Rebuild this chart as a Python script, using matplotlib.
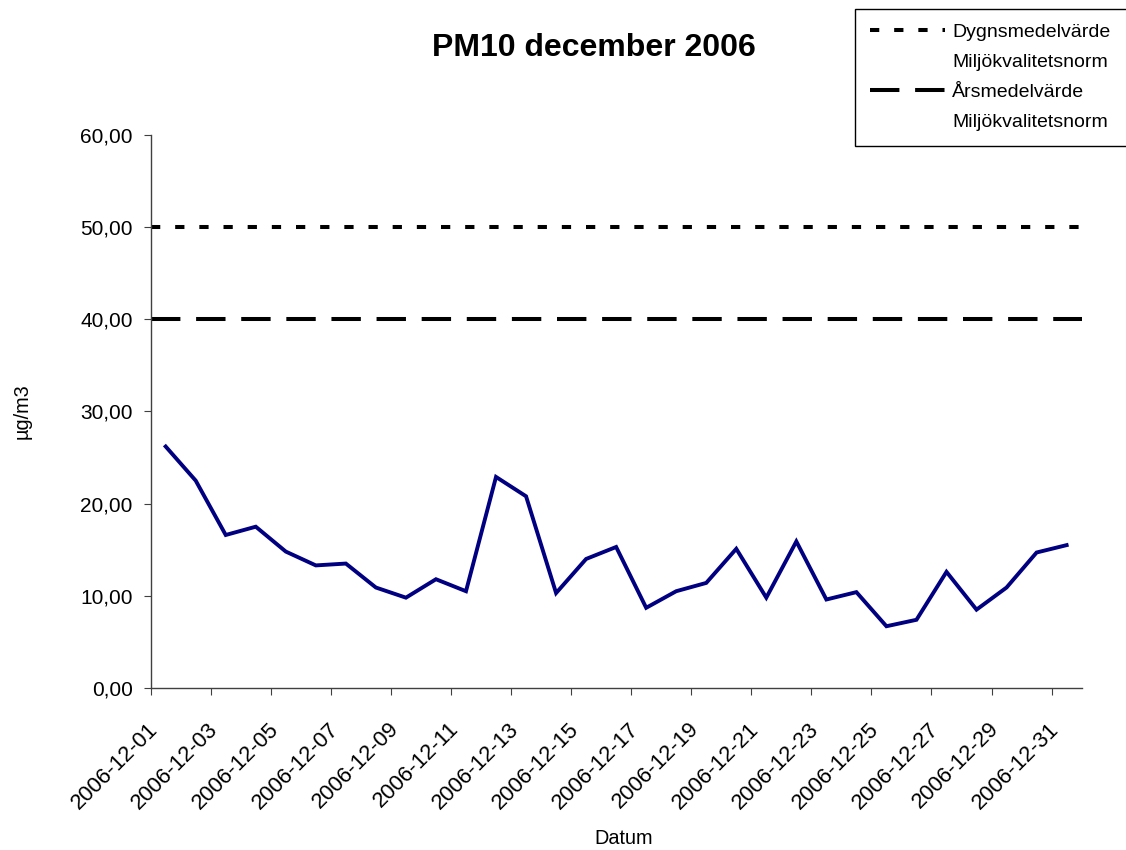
import matplotlib.pyplot as plt
import matplotlib.transforms as mtransforms
from matplotlib.lines import Line2D
import numpy as np

plt.rcParams['font.family'] = ['Liberation Sans', 'DejaVu Sans']

datum = ['2006-12-%02d' % d for d in range(1, 32)]
pm10 = [26.2, 22.5, 16.6, 17.5, 14.8, 13.3, 13.5, 10.9, 9.8, 11.8,
        10.5, 22.9, 20.8, 10.3, 14.0, 15.3, 8.7, 10.5, 11.4, 15.1,
        9.8, 15.9, 9.6, 10.4, 6.7, 7.4, 12.6, 8.5, 10.9, 14.7, 15.5]
dygn_norm = 50.0
ars_norm = 40.0
yticks = [0, 10, 20, 30, 40, 50, 60]

fig = plt.figure(figsize=(11.26, 8.5), dpi=100)
ax = fig.add_axes([0.1338, 0.1906, 0.8268, 0.6506])

x = np.arange(len(datum))
ax.plot(x, pm10, color='#000080', linewidth=2.8, solid_joinstyle='miter')
dot_style = dict(color='black', linewidth=2.9, dashes=(2.3, 3.7), dash_capstyle='butt')
dash_style = dict(color='black', linewidth=2.9, dashes=(7.3, 3.9), dash_capstyle='butt')
ax.axhline(dygn_norm, **dot_style)
ax.axhline(ars_norm, **dash_style)

# tick marks between categories, labels on every other category
ax.set_xticks(np.arange(-0.5, len(datum), 2))
ax.set_xticklabels([])
ax.set_xticks(x[::2], minor=True)
ax.set_xticklabels(datum[::2], minor=True, rotation=45, ha='right', va='top',
                   rotation_mode='anchor', fontsize=15.8)
ax.tick_params(axis='x', which='major', direction='out', length=5, color='#404040')
ax.tick_params(axis='x', which='minor', length=0, pad=22)
# nudge the rotated labels a little to the left, like excel does
shift = mtransforms.ScaledTranslation(-0.18, 0, fig.dpi_scale_trans)
for lab in ax.xaxis.get_minorticklabels():
    lab.set_transform(lab.get_transform() + shift)

ax.set_yticks(yticks)
ax.set_yticklabels([('%.2f' % v).replace('.', ',') for v in yticks])
ax.tick_params(axis='y', direction='out', length=5, color='#404040', labelsize=15, pad=8)

ax.set_xlim(-0.5, len(datum) - 0.5)
ax.set_ylim(0, 60)

for s in ['top', 'right']:
    ax.spines[s].set_visible(False)
for s in ['left', 'bottom']:
    ax.spines[s].set_color('#404040')
    ax.spines[s].set_linewidth(1)

ax.set_xlabel('Datum', fontsize=14.3, va='center')
ax.xaxis.set_label_coords(0.5085, -0.2715)
ax.set_ylabel('µg/m3', fontsize=14.3)
ax.yaxis.set_label_coords(-0.1275, 0.5)

fig.text(0.527, 0.944, 'PM10 december 2006', ha='center', va='center',
         fontsize=23, fontweight='bold')

blank = Line2D([], [], color='none')
handles = [Line2D([], [], **dot_style), blank, Line2D([], [], **dash_style), blank]
labels = ['Dygnsmedelvärde', 'Miljökvalitetsnorm', 'Årsmedelvärde', 'Miljökvalitetsnorm']
leg = fig.legend(handles, labels, loc='upper left', mode='expand',
                 bbox_to_anchor=(855 / 1126, 1 - 142 / 850, 290 / 1126, 133 / 850),
                 bbox_transform=fig.transFigure, fontsize=14, frameon=True, fancybox=False,
                 framealpha=1, edgecolor='black', handlelength=3.9, handletextpad=0.36,
                 labelspacing=0.64, borderpad=0.75, borderaxespad=0)
leg.get_frame().set_linewidth(1)

fig.savefig('out.png', dpi=100)
